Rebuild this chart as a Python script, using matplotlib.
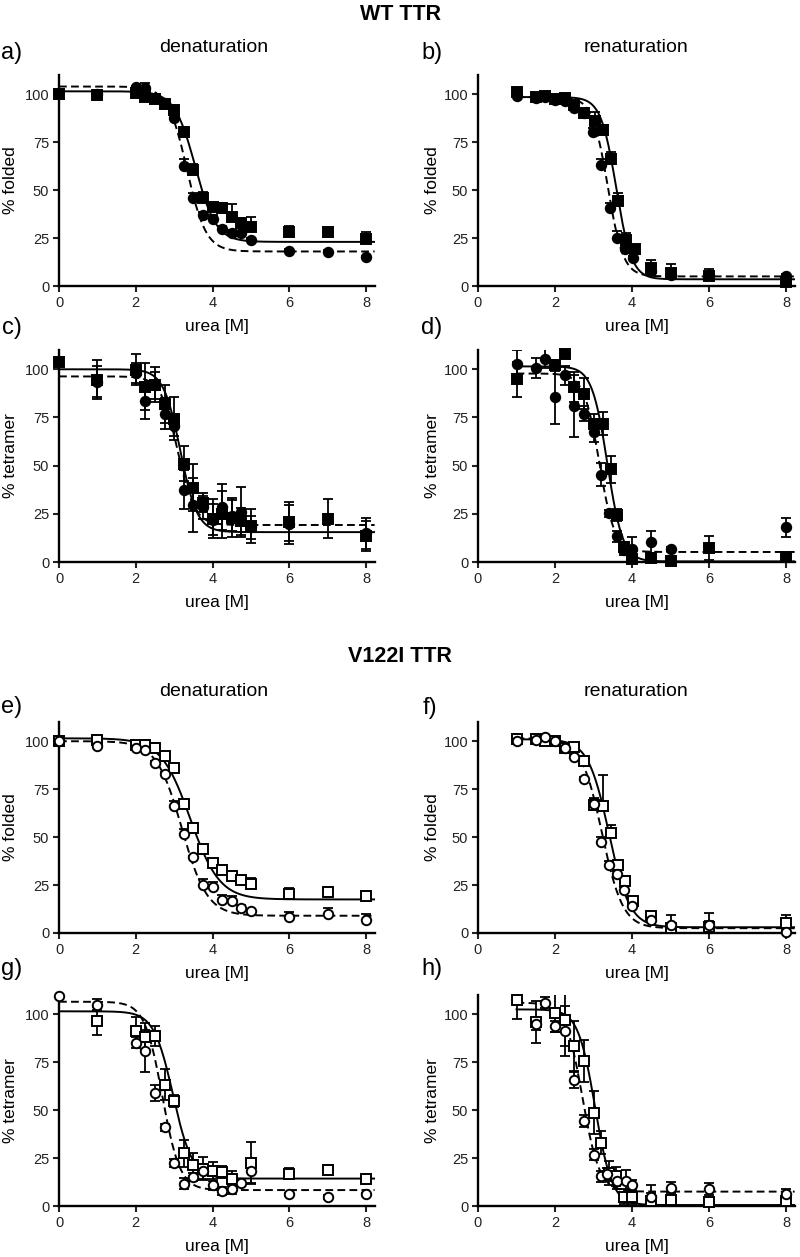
import matplotlib.pyplot as plt
import numpy as np

plt.rcParams['font.family'] = ['Liberation Sans', 'DejaVu Sans']

# ---- WT TTR, denaturation, % folded (a)
a_sq_x = [0, 1, 2, 2.25, 2.5, 2.75, 3.0, 3.25, 3.5, 3.75, 4.0, 4.25, 4.5, 4.75, 5.0, 6, 7, 8]
a_sq_y = [100, 99.5, 100.5, 98.6, 97.7, 95, 92, 80.4, 60.6, 46, 41, 40.5, 36, 33, 31, 28, 28, 24.7]
a_sq_e = [0, 2, 1, 2, 1.5, 2, 2, 2, 3, 3, 2.5, 3, 7, 2, 5, 3.5, 1.5, 3.5]
a_ci_x = [1, 2, 2.25, 2.5, 2.75, 3.0, 3.25, 3.5, 3.75, 4.0, 4.25, 4.5, 4.75, 5.0, 6, 7, 8]
a_ci_y = [100, 103.5, 103, 98, 95.5, 87.4, 62.5, 46, 37, 35, 29.7, 27.6, 27.5, 23.8, 18.5, 17.7, 14.9]
a_ci_e = [1, 1, 3, 1, 1, 1, 3.5, 2.5, 1.5, 2, 1.5, 1.5, 1, 1, 1, 1, 1]
a_fit_sq = (101.5, 23, 3.55, 0.27)   # top, bottom, midpoint, slope
a_fit_ci = (104, 18, 3.33, 0.25)

# ---- WT TTR, renaturation, % folded (b)
b_sq_x = [1, 1.5, 1.75, 2.0, 2.25, 2.5, 2.75, 3.04, 3.24, 3.44, 3.63, 3.85, 4.07, 4.5, 5.0, 6, 8]
b_sq_y = [101, 98.5, 99, 97.5, 98, 94.5, 90, 86, 81.3, 66.4, 44.2, 24, 19.2, 9.3, 6.6, 5, 2.3]
b_sq_e = [2, 1, 1, 1, 2, 2, 2, 4.5, 2.5, 3.5, 4.5, 3.5, 2, 4.5, 5, 4, 4]
b_ci_x = [1, 1.5, 1.75, 2.0, 2.25, 2.5, 2.75, 2.98, 3.2, 3.42, 3.62, 3.82, 4.02, 4.5, 5.0, 6, 8]
b_ci_y = [99, 98, 98.5, 97, 96.5, 93, 90, 80.4, 63, 40.7, 25, 19.2, 14.5, 8, 5.8, 5.6, 5.2]
b_ci_e = [1, 1, 1, 1, 1, 1, 1, 2, 3, 2.5, 3.5, 1.5, 1, 1, 1, 1, 1]
b_fit_sq = (98.5, 3.5, 3.59, 0.2)
b_fit_ci = (98.5, 5, 3.37, 0.2)

# ---- WT TTR, denaturation, % tetramer (c)
c_sq_x = [0, 1, 2, 2.25, 2.5, 2.75, 3.0, 3.25, 3.5, 3.75, 4.0, 4.25, 4.5, 4.75, 5.0, 6, 7, 8]
c_sq_y = [104, 94.6, 99.8, 91, 92, 82, 74.4, 51, 38.6, 30.7, 22.5, 24.7, 23, 21.2, 18.7, 21, 22.5, 13.5]
c_sq_e = [0, 10, 8, 12, 9, 10, 11, 9, 12, 5, 10, 12, 10, 7, 9, 10, 10, 8]
c_ci_x = [1, 2, 2.25, 2.5, 2.75, 3.0, 3.25, 3.5, 3.75, 4.0, 4.25, 4.5, 4.75, 5.0, 6, 8]
c_ci_y = [93.5, 98, 83.4, 91.7, 77, 70.6, 37.6, 29.4, 28.5, 22, 28.7, 24, 26, 18, 19.5, 15]
c_ci_e = [8, 5, 9, 7, 8, 5, 10, 14, 6, 8, 12, 8, 13, 6, 10, 8]
c_fit_sq = (100, 15.5, 3.16, 0.22)
c_fit_ci = (96.3, 19.2, 3.09, 0.22)

# ---- WT TTR, renaturation, % tetramer (d)
d_sq_x = [1, 2.0, 2.25, 2.5, 2.75, 3.0, 3.25, 3.45, 3.6, 3.8, 4.0, 4.5, 5.0, 6, 8]
d_sq_y = [94.8, 102, 107.8, 90.8, 87.4, 71.8, 71.8, 48, 24.5, 7.6, 1.7, 2, 0.3, 7.2, 2.4]
d_sq_e = [9, 3, 0, 8, 8, 5, 6, 7, 3, 3, 1, 2, 1, 6.4, 1]
d_ci_x = [1, 1.5, 1.75, 2.0, 2.25, 2.5, 2.75, 3.0, 3.2, 3.4, 3.6, 3.8, 4.0, 4.5, 5.0, 8]
d_ci_y = [102.9, 100.7, 105.5, 85.6, 96.9, 81, 77, 67.5, 45.3, 25.2, 13.3, 6.4, 6.9, 10.4, 6.9, 18]
d_ci_e = [7, 5, 5, 14, 5, 16, 4, 5, 6, 2, 3, 3, 6, 5.8, 1, 4.8]
d_fit_sq = (101.5, 0.3, 3.36, 0.2)
d_fit_ci = (97.8, 5.2, 3.15, 0.2)

# ---- V122I TTR, denaturation, % folded (e)
e_sq_x = [0, 1, 2, 2.25, 2.5, 2.75, 3.0, 3.25, 3.5, 3.75, 4.0, 4.25, 4.5, 4.75, 5.0, 6, 7, 8]
e_sq_y = [100, 100.5, 98, 98, 96.5, 92.4, 86, 67.5, 54.5, 44, 36.5, 33, 29.6, 27.5, 25.5, 20.5, 21.3, 19.5]
e_sq_e = [0, 1, 1, 2.5, 1.5, 1.5, 1.5, 1.5, 1.5, 2, 2, 2.5, 1.5, 2, 3, 3, 1.5, 1.5]
e_ci_x = [0, 1, 2, 2.25, 2.5, 2.75, 3.0, 3.25, 3.5, 3.75, 4.0, 4.25, 4.5, 4.75, 5.0, 6, 7, 8]
e_ci_y = [100, 97.5, 96.5, 95.3, 88.7, 82.8, 66.3, 51.6, 39.4, 25, 24, 17.4, 16.8, 12.8, 11.3, 8.2, 9.9, 6.8]
e_ci_e = [0, 1, 1, 1, 1, 1, 2.5, 2.5, 1, 3, 2.5, 2.5, 2.5, 2, 1, 2.5, 3, 3]
e_fit_sq = (101.5, 17.5, 3.42, 0.38)
e_fit_ci = (100, 9, 3.2, 0.33)

# ---- V122I TTR, renaturation, % folded (f)
f_sq_x = [1, 1.5, 1.75, 2.0, 2.25, 2.5, 2.75, 3.0, 3.25, 3.45, 3.63, 3.82, 4.02, 4.5, 5.0, 6, 8]
f_sq_y = [100.9, 101, 100, 100.2, 96.7, 97, 89.6, 66.7, 66.3, 52.3, 35.5, 27, 16.5, 9, 2.4, 3, 5.2]
f_sq_e = [1, 1, 1.5, 1, 1, 1, 1, 3, 16, 4, 2, 2, 3, 2, 2, 3, 4]
f_ci_x = [1, 1.5, 1.75, 2.0, 2.25, 2.5, 2.75, 3.0, 3.2, 3.4, 3.6, 3.78, 4.0, 4.5, 5.0, 6, 8]
f_ci_y = [100, 100.5, 102, 100, 96.5, 91.8, 80.5, 67.5, 47.3, 35.5, 30.5, 22.2, 14, 7, 4.2, 4.2, 0.7]
f_ci_e = [1, 1, 1, 1, 1, 1, 1, 3, 3, 2, 2, 2, 2, 2, 5, 6, 1]
f_fit_sq = (101, 3, 3.4, 0.27)
f_fit_ci = (101.5, 2.5, 3.22, 0.27)

# ---- V122I TTR, denaturation, % tetramer (g)
g_sq_x = [1, 2, 2.25, 2.5, 2.75, 3.0, 3.25, 3.5, 3.75, 4.0, 4.25, 4.5, 5.0, 6, 7, 8]
g_sq_y = [96.4, 91.4, 88.3, 88.6, 63.3, 54.7, 27.5, 21.5, 19.4, 18, 17.7, 14.3, 22.5, 16.9, 18.6, 14.3]
g_sq_e = [7.5, 7, 7, 5, 8, 3, 7, 6, 6, 5, 3, 4, 11, 3, 2, 2]
g_ci_x = [0, 1, 2, 2.25, 2.5, 2.75, 3.0, 3.25, 3.5, 3.75, 4.0, 4.25, 4.5, 4.75, 5.0, 6, 7, 8]
g_ci_y = [109.3, 105, 85.2, 81, 59, 41, 22.5, 11.7, 15.1, 18, 11.2, 7.7, 9.1, 12.2, 18, 6, 4.8, 6]
g_ci_e = [0, 3, 3, 11, 4, 2, 2, 3, 2, 4, 3, 2, 3, 2, 6, 1, 1, 1]
g_fit_sq = (101.5, 14.3, 2.97, 0.25)
g_fit_ci = (106.5, 8.3, 2.69, 0.23)

# ---- V122I TTR, renaturation, % tetramer (h)
h_sq_x = [1, 1.5, 2.0, 2.25, 2.5, 2.75, 3.0, 3.2, 3.4, 3.58, 3.8, 4.0, 4.5, 5.0, 6, 8]
h_sq_y = [107.4, 96, 100.7, 97.2, 83.2, 75.8, 48.7, 32.9, 17.2, 15.4, 4.9, 4.9, 2.6, 3.2, 1.9, 2.6]
h_sq_e = [10, 11, 10, 14, 13, 11, 11, 6, 6, 5, 4, 4, 4, 2, 2, 2]
h_ci_x = [1.5, 1.75, 2.0, 2.25, 2.5, 2.75, 3.0, 3.2, 3.36, 3.6, 3.84, 4.0, 4.5, 5.0, 6, 8]
h_ci_y = [95, 106, 93.7, 91.2, 65.7, 44.3, 26.8, 15.4, 16.6, 12.8, 12.8, 10.7, 4.9, 9.6, 8.8, 6.1]
h_ci_e = [3, 3, 3, 13, 4, 3, 3, 3, 3, 4, 6, 3, 6, 3, 3, 3]
h_fit_sq = (102.5, 0.5, 3.04, 0.22)
h_fit_ci = (106, 7.5, 2.71, 0.22)

W, H = 800, 1257
fig = plt.figure(figsize=(W / 100, H / 100), dpi=100)


def boltz(x, p):
    top, bottom, v50, slope = p
    return bottom + (top - bottom) / (1 + np.exp((x - v50) / slope))


def make_axes(l, t, r, b):
    return fig.add_axes([l / W, 1 - b / H, (r - l) / W, (b - t) / H])


def panel(ax, sq, ci, fit_sq, fit_ci, x0, open_marks, upper_only, ylabel, ylab_x):
    xc = np.linspace(x0, 8.22, 400)
    ax.plot(xc, boltz(xc, fit_sq), color='k', lw=1.4, zorder=2)
    ax.plot(xc, boltz(xc, fit_ci), color='k', lw=1.4, ls=(0, (4, 2.2)), zorder=2)
    face = 'white' if open_marks else 'black'
    for (x, y, e), m, ms in ((sq, 's', 6.6), (ci, 'o', 6.8)):
        e = np.array(e)
        yerr = [np.zeros_like(e), e] if upper_only else e
        ax.errorbar(x, y, yerr=yerr, fmt='none', ecolor='k', elinewidth=1.3,
                    capsize=3.5, capthick=1.3, zorder=3)
        ax.plot(x, y, m, ms=ms, mfc=face, mec='k', mew=1.4, clip_on=False, zorder=4)
    ax.set_xlim(0, 8.23)
    ax.set_ylim(0, 110)
    ax.set_xticks([0, 2, 4, 6, 8])
    ax.set_yticks([0, 25, 50, 75, 100])
    for s in ('top', 'right'):
        ax.spines[s].set_visible(False)
    for s in ('left', 'bottom'):
        ax.spines[s].set_linewidth(1.7)
    ax.tick_params(direction='out', length=4, width=1.5, labelsize=10.5, pad=3, colors='#222222')
    ax.set_xlabel('urea [M]', fontsize=12.5)
    ax.xaxis.set_label_coords(0.5, -0.155)
    ax.set_ylabel(ylabel, fontsize=12.5, va='center')
    ax.yaxis.set_label_coords(ylab_x, 0.5)


boxes = {
    'a': (59, 75, 375, 286), 'b': (478, 75, 795, 286),
    'c': (59, 350, 375, 562), 'd': (478, 350, 795, 562),
    'e': (59, 722, 375, 933), 'f': (478, 722, 795, 933),
    'g': (59, 995, 375, 1206), 'h': (478, 995, 795, 1206),
}

panel(make_axes(*boxes['a']), (a_sq_x, a_sq_y, a_sq_e), (a_ci_x, a_ci_y, a_ci_e),
      a_fit_sq, a_fit_ci, 0, False, True, '% folded', -0.152)
panel(make_axes(*boxes['b']), (b_sq_x, b_sq_y, b_sq_e), (b_ci_x, b_ci_y, b_ci_e),
      b_fit_sq, b_fit_ci, 1, False, True, '% folded', -0.145)
panel(make_axes(*boxes['c']), (c_sq_x, c_sq_y, c_sq_e), (c_ci_x, c_ci_y, c_ci_e),
      c_fit_sq, c_fit_ci, 0, False, False, '% tetramer', -0.152)
panel(make_axes(*boxes['d']), (d_sq_x, d_sq_y, d_sq_e), (d_ci_x, d_ci_y, d_ci_e),
      d_fit_sq, d_fit_ci, 1, False, False, '% tetramer', -0.145)
panel(make_axes(*boxes['e']), (e_sq_x, e_sq_y, e_sq_e), (e_ci_x, e_ci_y, e_ci_e),
      e_fit_sq, e_fit_ci, 0, True, True, '% folded', -0.152)
panel(make_axes(*boxes['f']), (f_sq_x, f_sq_y, f_sq_e), (f_ci_x, f_ci_y, f_ci_e),
      f_fit_sq, f_fit_ci, 1, True, True, '% folded', -0.145)
panel(make_axes(*boxes['g']), (g_sq_x, g_sq_y, g_sq_e), (g_ci_x, g_ci_y, g_ci_e),
      g_fit_sq, g_fit_ci, 0, True, False, '% tetramer', -0.152)
panel(make_axes(*boxes['h']), (h_sq_x, h_sq_y, h_sq_e), (h_ci_x, h_ci_y, h_ci_e),
      h_fit_sq, h_fit_ci, 1, True, False, '% tetramer', -0.145)


def ftext(x, y, s, **kw):
    fig.text(x / W, 1 - y / H, s, ha='center', va='center', **kw)


ftext(400, 14, 'WT TTR', fontsize=15.5, fontweight='bold')
ftext(400, 657, 'V122I TTR', fontsize=15.5, fontweight='bold')
ftext(214, 48, 'denaturation', fontsize=14)
ftext(636, 48, 'renaturation', fontsize=14)
ftext(214, 691, 'denaturation', fontsize=14)
ftext(636, 691, 'renaturation', fontsize=14)
for lab, x, y in (('a)', 12, 53), ('b)', 432, 53), ('c)', 12, 328), ('d)', 432, 328),
                  ('e)', 12, 707), ('f)', 430, 708), ('g)', 12, 969), ('h)', 432, 969)):
    ftext(x, y, lab, fontsize=17)

fig.savefig('out.png', dpi=100)
